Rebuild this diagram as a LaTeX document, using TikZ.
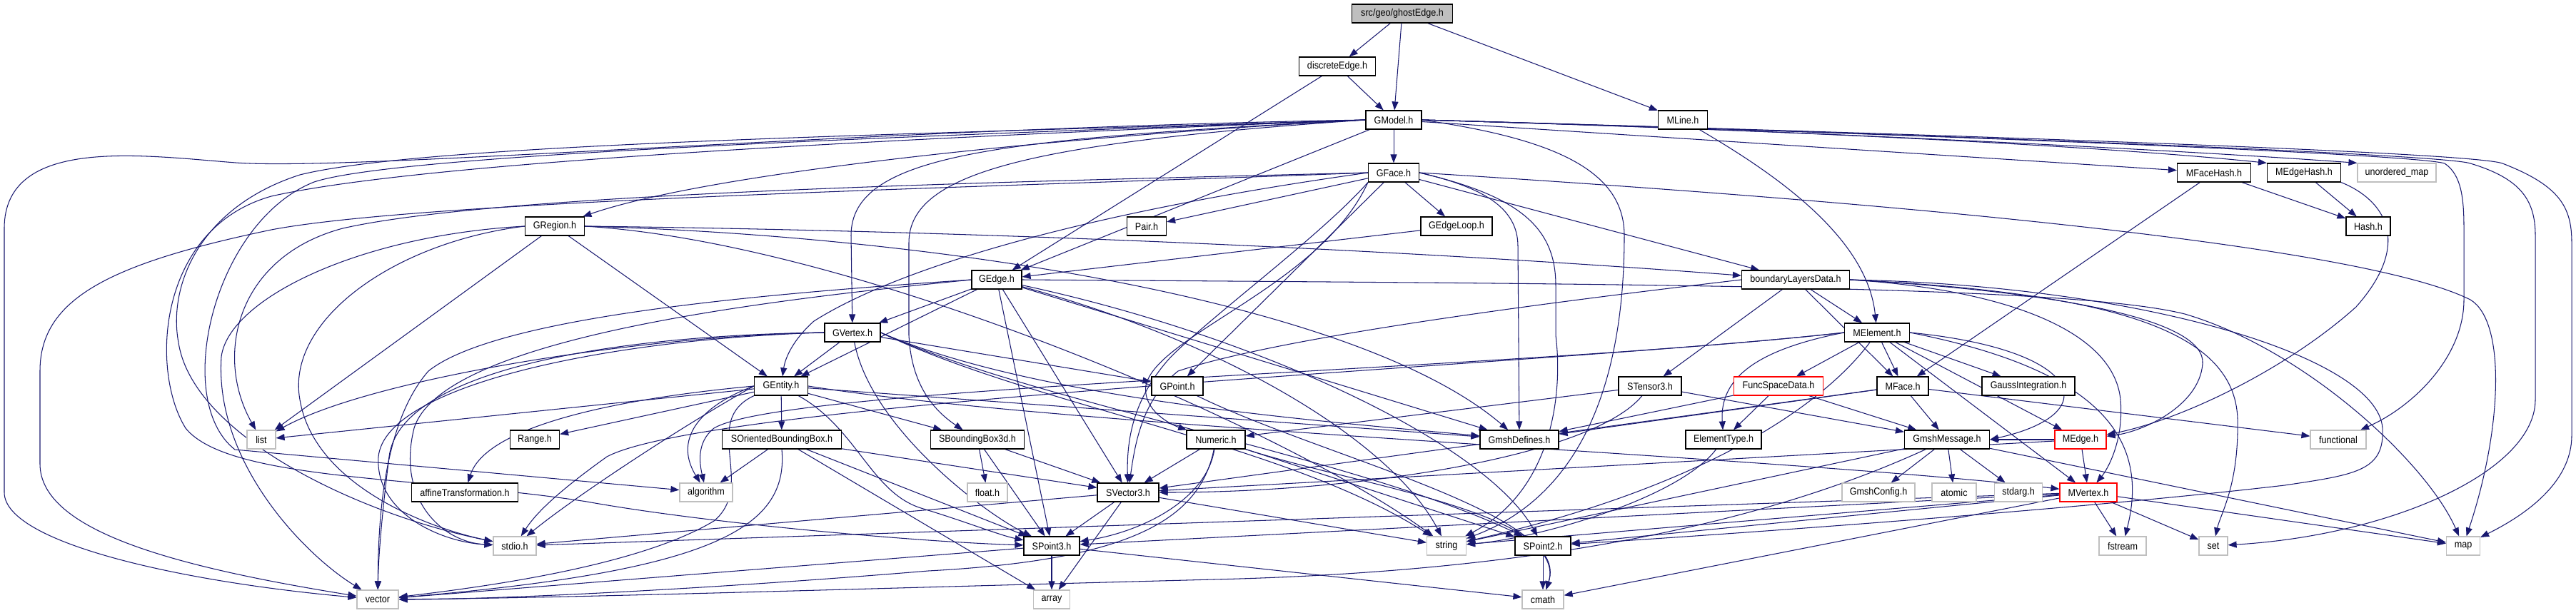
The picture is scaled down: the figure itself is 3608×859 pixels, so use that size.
\documentclass[tikz,border=0pt]{standalone}
\usepackage{fontspec}
\setmainfont{Liberation Sans}[FakeStretch=0.9]
\usetikzlibrary{arrows.meta}
\definecolor{edgec}{HTML}{191970}
\definecolor{sysc}{HTML}{BFBFBF}
\pgfdeclarelayer{bg}
\pgfsetlayers{bg,main}
\begin{document}
\begin{tikzpicture}[x=1pt,y=-1pt,
 fb/.style={draw=black, line width=1.2pt, fill=white, minimum height=26pt, inner sep=0pt, font=\fontsize{14}{16}\selectfont},
 fs/.style={fb, draw=sysc},
 fr/.style={fb, draw=red},
 ed/.style={draw=edgec, line width=1.05pt, -{Triangle[length=12pt,width=9pt]}}]
% nodes
\node[fb,fill=sysc,minimum width=141pt] (ghost) at (1964,19) {src/geo/ghostEdge.h};
\node[fb,minimum width=107pt] (dEdge) at (1873,93) {discreteEdge.h};
\node[fb,minimum width=78pt] (GModel) at (1952,168) {GModel.h};
\node[fb,minimum width=69pt] (MLine) at (2357,168) {MLine.h};
\node[fb,minimum width=71pt] (GFace) at (1952,242) {GFace.h};
\node[fb,minimum width=103pt] (MFaceHash) at (3101,242) {MFaceHash.h};
\node[fb,minimum width=103pt] (MEdgeHash) at (3227,242) {MEdgeHash.h};
\node[fs,minimum width=110pt] (umap) at (3357,242) {unordered\_map};
\node[fb,minimum width=83pt] (GRegion) at (777,317) {GRegion.h};
\node[fb,minimum width=55pt] (Pair) at (1606,317) {Pair.h};
\node[fb,minimum width=100pt] (GEdgeLoop) at (2040,317) {GEdgeLoop.h};
\node[fb,minimum width=62pt] (Hash) at (3317,317) {Hash.h};
\node[fb,minimum width=70pt] (GEdge) at (1396,392) {GEdge.h};
\node[fb,minimum width=151pt] (bLD) at (2515,392) {boundaryLayersData.h};
\node[fb,minimum width=78pt] (GVertex) at (1194,466) {GVertex.h};
\node[fb,minimum width=91pt] (MElement) at (2629,466) {MElement.h};
\node[fb,minimum width=75pt] (GEntity) at (1094,541) {GEntity.h};
\node[fb,minimum width=72pt] (GPoint) at (1649,541) {GPoint.h};
\node[fb,minimum width=88pt] (STensor3) at (2311,541) {STensor3.h};
\node[fr,minimum width=125pt] (FuncSpaceData) at (2491,541) {FuncSpaceData.h};
\node[fb,minimum width=72pt] (MFace) at (2665,541) {MFace.h};
\node[fb,minimum width=130pt] (GaussInt) at (2841,541) {GaussIntegration.h};
\node[fs,minimum width=40pt] (list) at (366,616) {list};
\node[fb,minimum width=69pt] (Range) at (749,616) {Range.h};
\node[fb,minimum width=167pt] (SOBB) at (1095,616) {SOrientedBoundingBox.h};
\node[fb,minimum width=131pt] (SBB3d) at (1369,616) {SBoundingBox3d.h};
\node[fb,minimum width=82pt] (Numeric) at (1703,616) {Numeric.h};
\node[fb,minimum width=110pt] (GmshDefines) at (2128,616) {GmshDefines.h};
\node[fb,minimum width=106pt] (ElementType) at (2414,616) {ElementType.h};
\node[fb,minimum width=119pt] (GmshMessage) at (2727,616) {GmshMessage.h};
\node[fr,minimum width=72pt] (MEdge) at (2914,616) {MEdge.h};
\node[fs,minimum width=78pt] (functional) at (3275,616) {functional};
\node[fb,minimum width=149pt] (affine) at (651,690) {affineTransformation.h};
\node[fs,minimum width=74pt] (algorithm) at (989,690) {algorithm};
\node[fs,minimum width=56pt] (float) at (1383,690) {float.h};
\node[fb,minimum width=86pt] (SVector3) at (1580,690) {SVector3.h};
\node[fs,minimum width=102pt] (GmshConfig) at (2631,690) {GmshConfig.h};
\node[fs,minimum width=62pt] (atomic) at (2737,690) {atomic};
\node[fs,minimum width=67pt] (stdarg) at (2827,690) {stdarg.h};
\node[fr,minimum width=80pt] (MVertex) at (2925,690) {MVertex.h};
\node[fs,minimum width=60pt] (stdio) at (721,765) {stdio.h};
\node[fb,minimum width=78pt] (SPoint3) at (1473,765) {SPoint3.h};
\node[fs,minimum width=55pt] (string) at (2026,765) {string};
\node[fb,minimum width=78pt] (SPoint2) at (2161,765) {SPoint2.h};
\node[fs,minimum width=66pt] (fstream) at (2973,765) {fstream};
\node[fs,minimum width=40pt] (set) at (3100,765) {set};
\node[fs,minimum width=47pt] (map) at (3450,765) {map};
\node[fs,minimum width=58pt] (vector) at (529,840) {vector};
\node[fs,minimum width=51pt] (array) at (1473,840) {array};
\node[fs,minimum width=58pt] (cmath) at (2161,840) {cmath};
\begin{pgfonlayer}{bg}
\fill[white] (0,0) rectangle (3608,859);
% ---- top
\draw[ed] (ghost) -- (dEdge);
\draw[ed] (ghost) -- (GModel);
\draw[ed] (ghost) -- (MLine);
\draw[ed] (dEdge) -- (GModel);
\draw[ed] (dEdge) -- (GEdge);
\draw[ed] (MLine) .. controls (2480,240) and (2615,330) .. (MElement);
% ---- GModel
\draw[ed] (GModel) -- (GFace);
\draw[ed] (GModel) -- (MFaceHash);
\draw[ed] (GModel.east) .. controls (2500,182) and (2950,205) .. (MEdgeHash.north west);
\draw[ed] (GModel.east) .. controls (2500,182) and (3050,210) .. (umap.north west);
\draw[ed] (GModel.east) .. controls (2600,185) and (3380,215) .. (3424,229) .. controls (3448,245) and (3451,280) .. (3451,320) -- (3451,420) .. controls (3451,500) and (3380,570) .. (functional);
\draw[ed] (GModel.east) .. controls (2600,185) and (3420,215) .. (3460,229) .. controls (3530,250) and (3551,280) .. (3551,330) -- (3551,560) .. controls (3551,660) and (3350,750) .. (set);
\draw[ed] (GModel.east) .. controls (2600,185) and (3460,212) .. (3505,229) .. controls (3585,260) and (3602,290) .. (3602,340) -- (3602,610) .. controls (3602,680) and (3530,725) .. (map);
\draw[ed] (GModel.west) .. controls (1500,190) and (1000,240) .. (GRegion);
\draw[ed] (GModel) -- (GEdge);
\draw[ed] (GModel.west) .. controls (1400,195) and (1192,215) .. (1192,330) -- (GVertex);
\draw[ed] (GModel.west) .. controls (1450,200) and (1273,240) .. (1273,340) -- (1273,470) .. controls (1276,530) and (1300,570) .. (SBB3d);
\draw[ed] (GModel.west) .. controls (1200,180) and (500,240) .. (330,228) .. controls (200,218) and (6,190) .. (6,320) -- (6,690) .. controls (6,760) and (250,815) .. (vector);
\draw[ed] (GModel.west) .. controls (1300,192) and (600,225) .. (380,275) .. controls (220,320) and (210,520) .. (260,600) .. controls (320,675) and (600,668) .. (822,703) .. controls (1000,735) and (1300,760) .. (SPoint3);
\draw[ed] (GModel.west) .. controls (1300,188) and (600,200) .. (420,245) .. controls (280,290) and (235,400) .. (250,480) .. controls (270,610) and (500,720) .. (stdio);
\draw[ed] (GModel.west) .. controls (1300,190) and (560,215) .. (440,255) .. controls (300,310) and (240,560) .. (329,630) -- (algorithm);
\draw[ed] (GModel.east) .. controls (2180,195) and (2275,240) .. (2275,330) .. controls (2275,560) and (2200,700) .. (string);
% ---- GFace
\draw[ed] (GFace) -- (GEdgeLoop);
\draw[ed] (GFace) -- (Pair);
\draw[ed] (GFace) -- (bLD);
\draw[ed] (GFace) -- (GPoint);
\draw[ed] (GFace.west) .. controls (1400,255) and (700,270) .. (480,320) .. controls (330,360) and (300,500) .. (list);
\draw[ed] (GFace.west) .. controls (1400,262) and (600,280) .. (380,322) .. controls (150,370) and (56,420) .. (56,520) -- (56,650) .. controls (56,745) and (250,795) .. (vector);
\draw[ed] (GFace.west) .. controls (1500,300) and (1250,380) .. (1140,450) .. controls (1112,475) and (1100,500) .. (GEntity);
\draw[ed] (GFace.south west) .. controls (1850,400) and (1620,470) .. (1605,540) .. controls (1600,575) and (1640,595) .. (Numeric);
\draw[ed] (GFace.south west) .. controls (1850,330) and (1700,440) .. (1640,500) .. controls (1585,560) and (1578,620) .. (SVector3);
\draw[ed] (GFace.east) .. controls (2075,262) and (2126,290) .. (2126,345) -- (GmshDefines);
\draw[ed] (GFace.east) .. controls (2130,275) and (2179,320) .. (2179,400) -- (2179,470) .. controls (2190,560) and (2170,690) .. (string);
\draw[ed] (GFace.east) .. controls (2600,280) and (3300,340) .. (3460,420) .. controls (3510,450) and (3505,600) .. (map);
% ---- GRegion
\draw[ed] (GRegion) -- (GEntity);
\draw[ed] (GRegion) -- (list);
\draw[ed] (GRegion.east) .. controls (1500,325) and (2100,360) .. (bLD);
\draw[ed] (GRegion.east) .. controls (1300,330) and (1900,420) .. (GmshDefines);
\draw[ed] (GRegion.east) .. controls (1200,340) and (1800,600) .. (string);
\draw[ed] (GRegion.west) .. controls (500,330) and (320,420) .. (310,500) .. controls (300,650) and (430,780) .. (vector);
\draw[ed] (GRegion.west) .. controls (550,340) and (400,450) .. (420,560) .. controls (440,680) and (600,740) .. (stdio);
% ---- GEdgeLoop
\draw[ed] (GEdgeLoop) -- (GEdge);
% ---- GEdge
\draw[ed] (GEdge) -- (GVertex);
\draw[ed] (GEdge) -- (GEntity);
\draw[ed] (GEdge) -- (SPoint3);
\draw[ed] (GEdge) -- (SVector3);
\draw[ed] (GEdge) .. controls (1720,480) and (1950,620) .. (string);
\draw[ed] (GEdge) .. controls (1760,470) and (2080,620) .. (SPoint2);
\draw[ed] (GEdge) -- (GmshDefines);
\draw[ed] (GEdge.west) .. controls (1100,410) and (700,440) .. (600,520) .. controls (530,600) and (530,760) .. (vector);
\draw[ed] (GEdge.west) .. controls (1100,418) and (620,470) .. (580,600) .. controls (555,700) and (620,760) .. (stdio);
\draw[ed] (GEdge.east) .. controls (2300,398) and (2900,400) .. (3060,440) .. controls (3230,490) and (3400,650) .. (map);
% ---- GVertex
\draw[ed] (GVertex) -- (GEntity);
\draw[ed] (GVertex) -- (GPoint);
\draw[ed] (GVertex) .. controls (1220,600) and (1380,720) .. (SPoint3);
\draw[ed] (GVertex.east) .. controls (1450,570) and (1800,620) .. (string);
\draw[ed] (GVertex.east) .. controls (1450,565) and (1900,640) .. (SPoint2);
\draw[ed] (GVertex.east) .. controls (1450,560) and (1850,590) .. (GmshDefines);
\draw[ed] (GVertex.west) .. controls (900,470) and (520,530) .. (list);
\draw[ed] (GVertex.west) .. controls (850,475) and (540,540) .. (530,640) .. controls (525,720) and (620,760) .. (stdio);
\draw[ed] (GVertex.west) .. controls (850,470) and (560,520) .. (545,640) .. controls (535,720) and (530,780) .. (vector);
% ---- GEntity
\draw[ed] (GEntity) -- (SOBB);
\draw[ed] (GEntity) -- (SBB3d);
\draw[ed] (GEntity) -- (list);
\draw[ed] (GEntity) -- (Range);
\draw[ed] (GEntity) -- (GmshDefines);
\draw[ed] (GEntity.west) .. controls (990,565) and (940,610) .. (algorithm);
\draw[ed] (GEntity.west) .. controls (850,560) and (680,600) .. (affine);
\draw[ed] (GEntity.south west) .. controls (980,590) and (1060,680) .. (1000,730) .. controls (900,790) and (700,820) .. (vector);
\draw[ed] (GEntity.west) .. controls (950,600) and (800,700) .. (stdio);
\draw[ed] (GEntity) .. controls (1200,600) and (1220,690) .. (1290,712) .. controls (1350,730) and (1400,750) .. (SPoint3);
\draw[ed] (GEntity.east) .. controls (1500,600) and (2500,640) .. (MVertex);
% ---- SOBB
\draw[ed] (SOBB) -- (algorithm);
\draw[ed] (SOBB) -- (array);
\draw[ed] (SOBB) -- (SVector3);
\draw[ed] (SOBB) -- (SPoint3);
\draw[ed] (SOBB.south) .. controls (1105,740) and (1000,800) .. (vector);
% ---- SBB3d
\draw[ed] (SBB3d) -- (float);
\draw[ed] (SBB3d) -- (SPoint3);
\draw[ed] (SBB3d) -- (SVector3);
% ---- Numeric
\draw[ed] (Numeric) -- (SVector3);
\draw[ed] (Numeric) .. controls (1690,700) and (1600,745) .. (SPoint3);
\draw[ed] (Numeric) .. controls (1680,730) and (1580,785) .. (1300,800) .. controls (1000,825) and (700,840) .. (vector);
\draw[ed] (Numeric) -- (SPoint2);
\draw[ed] (Numeric) .. controls (1900,680) and (2200,720) .. (cmath);
% ---- SVector3
\draw[ed] (SVector3) -- (SPoint3);
\draw[ed] (SVector3) -- (array);
\draw[ed] (SVector3) -- (string);
\draw[ed] (SVector3) -- (stdio);
% ---- SPoint3
\draw[ed] (SPoint3) -- (array);
\draw[ed] (SPoint3) -- (cmath);
\draw[ed] (SPoint3) -- (vector);
% ---- SPoint2, GPoint
\draw[ed] (SPoint2) -- (cmath);
\draw[ed] (GPoint) .. controls (1850,640) and (2200,720) .. (cmath);
% ---- STensor3
\draw[ed] (STensor3) -- (GmshMessage);
\draw[ed] (STensor3) -- (Numeric);
\draw[ed] (STensor3) .. controls (2230,640) and (1900,690) .. (SVector3);
% ---- FuncSpaceData
\draw[ed] (FuncSpaceData) -- (ElementType);
\draw[ed] (FuncSpaceData) -- (GmshDefines);
\draw[ed] (FuncSpaceData) -- (GmshMessage);
% ---- ElementType
\draw[ed] (ElementType) .. controls (2350,700) and (2150,755) .. (string);
% ---- MElement
\draw[ed] (MElement) -- (FuncSpaceData);
\draw[ed] (MElement) -- (MFace);
\draw[ed] (MElement) -- (GaussInt);
\draw[ed] (MElement) -- (MEdge);
\draw[ed] (MElement) -- (MVertex);
\draw[ed] (MElement.west) .. controls (2460,490) and (2408,530) .. (ElementType);
\draw[ed] (MElement.east) .. controls (2920,490) and (2950,580) .. (GmshMessage.east);
\draw[ed] (MElement.east) .. controls (2950,520) and (3010,620) .. (fstream);
\draw[ed] (MElement.west) .. controls (2100,520) and (1100,540) .. (1000,600) .. controls (975,620) and (980,650) .. (algorithm);
\draw[ed] (MElement.west) .. controls (2200,510) and (1000,560) .. (850,640) .. controls (780,690) and (750,720) .. (stdio);
\draw[ed] (MElement) .. controls (2560,560) and (2400,680) .. (string);
% ---- MFace
\draw[ed] (MFace) -- (GmshMessage);
\draw[ed] (MFace) -- (GmshDefines);
\draw[ed] (MFace) -- (functional);
\draw[ed] (MFace) -- (SVector3);
% ---- MEdge
\draw[ed] (MEdge) -- (MVertex);
\draw[ed] (MEdge) -- (SVector3);
\draw[ed] (MEdge) -- (GmshMessage);
% ---- MVertex
\draw[ed] (MVertex) -- (fstream);
\draw[ed] (MVertex) -- (set);
\draw[ed] (MVertex) -- (map);
\draw[ed] (MVertex) -- (SPoint2);
\draw[ed] (MVertex) -- (SPoint3);
\draw[ed] (MVertex) -- (string);
\draw[ed] (MVertex) -- (stdio);
\draw[ed] (MVertex) -- (cmath);
% ---- GmshMessage
\draw[ed] (GmshMessage) -- (GmshConfig);
\draw[ed] (GmshMessage) -- (atomic);
\draw[ed] (GmshMessage) -- (stdarg);
\draw[ed] (GmshMessage) -- (map);
\draw[ed] (GmshMessage) -- (string);
\draw[ed] (GmshMessage) .. controls (2500,720) and (2200,800) .. (1700,812) .. controls (1200,825) and (800,838) .. (vector);
% ---- hashes
\draw[ed] (MFaceHash) -- (Hash);
\draw[ed] (MEdgeHash) -- (Hash);
\draw[ed] (MFaceHash) -- (MFace);
\draw[ed] (MEdgeHash.south east) .. controls (3340,280) and (3380,340) .. (3300,430) .. controls (3200,520) and (3050,590) .. (MEdge);
% ---- bLD
\draw[ed] (bLD) -- (MElement);
\draw[ed] (bLD) -- (STensor3);
\draw[ed] (bLD) -- (MFace);
\draw[ed] (bLD.west) .. controls (2200,420) and (1800,470) .. (1650,520) .. controls (1600,560) and (1590,620) .. (SVector3);
\draw[ed] (bLD.east) .. controls (2900,410) and (3090,450) .. (3085,510) .. controls (3080,570) and (3000,605) .. (MEdge);
\draw[ed] (bLD.east) .. controls (2800,405) and (2960,460) .. (2970,560) .. controls (2975,620) and (2950,660) .. (MVertex);
\draw[ed] (bLD.east) .. controls (2950,410) and (3130,460) .. (3134,587) .. controls (3136,680) and (3110,720) .. (set);
\draw[ed] (bLD.east) .. controls (3000,400) and (3330,500) .. (3337,600) .. controls (3340,660) and (3300,665) .. (3200,680) .. controls (2900,715) and (2400,750) .. (SPoint2);
\end{pgfonlayer}
\useasboundingbox (0,0) rectangle (3608,859);
\end{tikzpicture}
\end{document}
